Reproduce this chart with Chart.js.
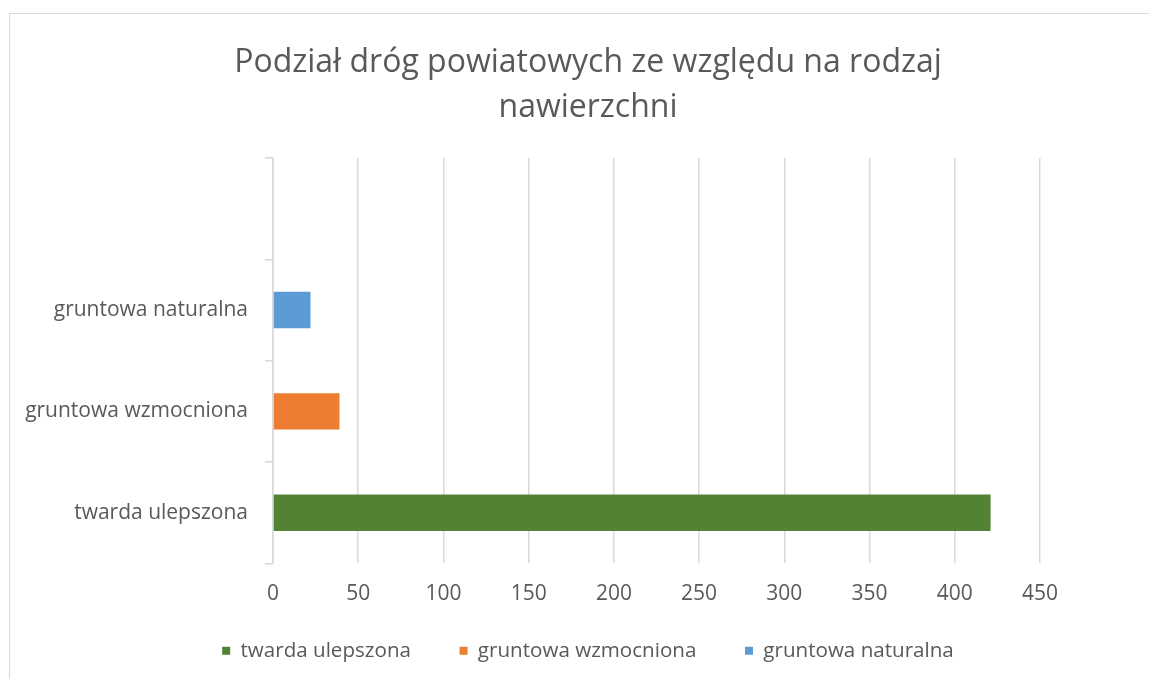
<!DOCTYPE html>
<html>
<head>
<meta charset="utf-8">
<script src="https://cdn.jsdelivr.net/npm/chart.js@4.4.1/dist/chart.umd.min.js"></script>
<style>
    html, body { margin: 0; padding: 0; background: #ffffff; overflow: hidden; }
    #ramka {
        position: absolute; left: 9px; top: 13px; width: 1300px; height: 800px;
        border: 1.5px solid #d9d9d9; box-sizing: border-box;
    }
    #wykres { position: absolute; left: 10px; top: 14px; }
</style>
</head>
<body>
<div id="ramka"></div>
<canvas id="wykres" width="1156" height="657"></canvas>
<script>
// Kategorie (od góry do dołu), pierwsza pusta jak w arkuszu
const kategorie = ['', 'gruntowa naturalna', 'gruntowa wzmocniona', 'twarda ulepszona'];
// Serie - nazwy, wartości (km) i kolory
const nazwySerii = ['twarda ulepszona', 'gruntowa wzmocniona', 'gruntowa naturalna'];
const wartosci = [421, 39, 22];
const kolory = ['#548235', '#ED7D31', '#5B9BD5'];
const tickiX = [0, 50, 100, 150, 200, 250, 300, 350, 400, 450];

const tytul = ['Podział dróg powiatowych ze względu na rodzaj', 'nawierzchni'];
const szary = '#595959';
const linia = '#d9d9d9';
const czcionka = 'Open Sans';

// każda seria ma wartość tylko w swojej kategorii
const zestawy = nazwySerii.map((nazwa, i) => ({
    label: nazwa,
    data: kategorie.map(k => (k === nazwa ? wartosci[i] : null)),
    backgroundColor: kolory[i],
    borderWidth: 0,
    categoryPercentage: 1,
    barPercentage: 0.36
}));

const ctx = document.getElementById('wykres').getContext('2d');
new Chart(ctx, {
    type: 'bar',
    data: { labels: kategorie, datasets: zestawy },
    options: {
        indexAxis: 'y',
        responsive: false,
        animation: false,
        devicePixelRatio: 1,
        layout: { padding: 0 },
        plugins: {
            title: {
                display: true,
                text: tytul,
                color: szary,
                font: { family: czcionka, size: 32, weight: 'normal', lineHeight: 1.406 },
                padding: { top: 26, bottom: 28 }
            },
            legend: {
                position: 'bottom',
                labels: {
                    color: szary,
                    font: { family: czcionka, size: 20.6 },
                    boxWidth: 8,
                    boxHeight: 8,
                    padding: 28,
                    // odstęp między pozycjami legendy jak w Excelu
                    generateLabels: chart => {
                        const etykiety = Chart.defaults.plugins.legend.labels.generateLabels(chart);
                        etykiety.forEach((e, i) => {
                            if (i < etykiety.length - 1) e.text += '\u2002\u2002';
                        });
                        return etykiety;
                    }
                }
            },
            tooltip: { enabled: false }
        },
        scales: {
            x: {
                stacked: true,
                min: 0,
                max: 450,
                afterBuildTicks: s => { s.ticks = tickiX.map(v => ({ value: v })); },
                grid: { color: linia, lineWidth: 1.5, drawTicks: false },
                border: { display: false },
                ticks: { color: szary, font: { family: czcionka, size: 21 }, padding: 18 },
                afterFit: s => { s.height = 49; }
            },
            y: {
                stacked: true,
                grid: { offset: true, drawOnChartArea: false, drawTicks: true, tickLength: 8, color: linia, lineWidth: 1.5 },
                border: { display: true, color: linia, width: 1.5 },
                ticks: { color: szary, font: { family: czcionka, size: 21 }, padding: 17 },
                afterFit: s => { s.width = 263; }
            },
            prawa: {
                position: 'right',
                display: true,
                grid: { display: false },
                border: { display: false },
                ticks: { display: false },
                afterFit: s => { s.width = 126; }
            }
        }
    }
});
</script>
</body>
</html>
